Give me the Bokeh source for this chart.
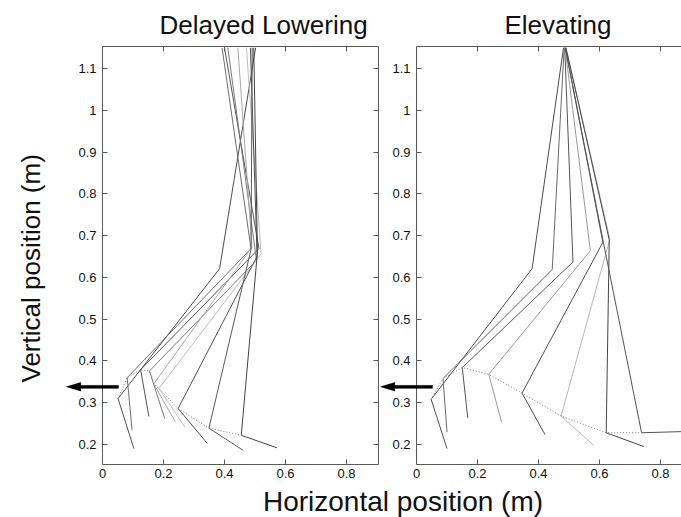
from bokeh.plotting import figure
from bokeh.models import Range1d, LinearAxis, FixedTicker, PolyAnnotation, Title
from bokeh.layouts import row, column
from bokeh.embed import file_html
from bokeh.resources import INLINE
from bokeh.core.validation import silence
from bokeh.core.validation.warnings import MISSING_RENDERERS

silence(MISSING_RENDERERS, True)

FONT = "Liberation Sans"

# ---------------- data ----------------
# Delayed Lowering: hip, knee, ankle, toe positions (m) for each frame
dl_hip_x = [0.502, 0.392, 0.400, 0.411, 0.444, 0.472, 0.485, 0.491, 0.496]
dl_hip_y = [1.150, 1.150, 1.150, 1.150, 1.150, 1.150, 1.150, 1.150, 1.150]
dl_knee_x = [0.384, 0.487, 0.513, 0.505, 0.490, 0.520, 0.507, 0.487, 0.508]
dl_knee_y = [0.621, 0.669, 0.669, 0.641, 0.672, 0.656, 0.651, 0.667, 0.660]
dl_ankle_x = [0.051, 0.081, 0.125, 0.154, 0.168, 0.185, 0.248, 0.349, 0.455]
dl_ankle_y = [0.310, 0.360, 0.379, 0.376, 0.345, 0.334, 0.286, 0.239, 0.222]
dl_toe_x = [0.103, 0.097, 0.152, 0.204, 0.239, 0.270, 0.343, 0.461, 0.572]
dl_toe_y = [0.190, 0.234, 0.267, 0.262, 0.254, 0.242, 0.203, 0.186, 0.192]
dl_colors = ["#4d4d4d", "#6e6e6e", "#555555", "#7a7a7a", "#a8a8a8",
             "#bdbdbd", "#505050", "#5a5a5a", "#444444"]

# Elevating
el_hip_x = [0.482, 0.484, 0.486, 0.487, 0.488, 0.490, 0.490, 0.488]
el_hip_y = [1.150, 1.150, 1.150, 1.150, 1.150, 1.150, 1.150, 1.150]
el_knee_x = [0.379, 0.445, 0.513, 0.570, 0.611, 0.634, 0.632, 0.613]
el_knee_y = [0.621, 0.619, 0.637, 0.664, 0.684, 0.692, 0.690, 0.683]
el_ankle_x = [0.048, 0.087, 0.150, 0.237, 0.346, 0.474, 0.622, 0.738]
el_ankle_y = [0.308, 0.358, 0.384, 0.368, 0.323, 0.268, 0.228, 0.228]
el_toe_x = [0.100, 0.100, 0.168, 0.279, 0.421, 0.581, 0.745, 0.880]
el_toe_y = [0.190, 0.230, 0.264, 0.253, 0.224, 0.198, 0.195, 0.231]
el_colors = ["#4d4d4d", "#6a6a6a", "#555555", "#9a9a9a", "#505050",
             "#b8b8b8", "#444444", "#555555"]

# obstacle-height arrow (m)
arrow_y = 0.338
arrow_x_tail = 0.053
arrow_x_tip = -0.12

x_ticks = [0, 0.2, 0.4, 0.6, 0.8]
y_ticks = [0.2, 0.3, 0.4, 0.5, 0.6, 0.7, 0.8, 0.9, 1.0, 1.1]

FRAME_H = 418
Y_RANGE = (0.152, 1.153)
AX_COLOR = "#5a5a5a"
PX_PER_X = 305.0                      # pixels per metre horizontally
PX_PER_Y = FRAME_H / (Y_RANGE[1] - Y_RANGE[0])


def style_axis(ax, ticks, show_labels, standoff=6):
    ax.ticker = FixedTicker(ticks=ticks)
    ax.major_tick_in = 5
    ax.major_tick_out = 0
    ax.minor_tick_line_color = None
    ax.axis_line_color = AX_COLOR
    ax.major_tick_line_color = AX_COLOR
    if show_labels:
        ax.major_label_overrides = {0: "0", 1: "1"}
        ax.major_label_text_font = FONT
        ax.major_label_text_font_size = "13px"
        ax.major_label_text_color = "#111111"
        ax.major_label_standoff = standoff
    else:
        ax.major_label_text_font_size = "0px"
        ax.major_label_text_color = None
        ax.major_label_standoff = 0


def arrow_shape():
    shaft = 1.6 / PX_PER_Y
    head_h = 4.5 / PX_PER_Y
    head_l = 15.0 / PX_PER_X
    neck = arrow_x_tip + head_l
    xs = [arrow_x_tail, neck, neck, arrow_x_tip, neck, neck, arrow_x_tail]
    ys = [arrow_y + shaft, arrow_y + shaft, arrow_y + head_h, arrow_y,
          arrow_y - head_h, arrow_y - shaft, arrow_y - shaft]
    return PolyAnnotation(xs=xs, ys=ys, xs_units="data", ys_units="data",
                          fill_color="black", fill_alpha=1.0,
                          line_color="black", line_width=0.5)


def make_panel(title, x_start, xmax, frame_w, left_border, right_border,
               with_right_axis, hx, hy, kx, ky, ax_, ay, tx, ty, colors, title_offset):
    p = figure(frame_width=frame_w, frame_height=FRAME_H,
               x_range=Range1d(x_start, xmax), y_range=Range1d(*Y_RANGE),
               output_backend="svg", toolbar_location=None,
               min_border_left=left_border, min_border_right=right_border,
               min_border_top=46, min_border_bottom=18)
    p.grid.visible = False
    p.background_fill_color = "white"
    p.border_fill_color = "white"
    p.outline_line_color = None

    # the visible box starts at x = 0; the frame extends left so the arrow can be drawn
    xa = p.xaxis[0]
    style_axis(xa, x_ticks, True, standoff=4)
    xa.bounds = (0, xmax)
    ya = p.yaxis[0]
    style_axis(ya, y_ticks, True, standoff=6)
    ya.fixed_location = 0

    top = LinearAxis(bounds=(0, xmax))
    style_axis(top, x_ticks, False)
    p.add_layout(top, "above")
    if with_right_axis:
        right = LinearAxis()
        style_axis(right, y_ticks, False)
        p.add_layout(right, "right")

    t = Title(text=title, align="left", text_font=FONT, text_font_size="26px",
              text_font_style="normal", text_color="#111111", standoff=14,
              offset=title_offset)
    p.add_layout(t, "above")

    xs = [[hx[i], kx[i], ax_[i], tx[i]] for i in range(len(hx))]
    ys = [[hy[i], ky[i], ay[i], ty[i]] for i in range(len(hx))]
    p.multi_line(xs, ys, line_color=colors, line_width=1)
    p.line(ax_, ay, line_color="#777777", line_width=1, line_dash="1 2")

    p.add_layout(arrow_shape())
    return p


# left panel frame: pixels 62..378, x = 0 at pixel 102
left = make_panel("Delayed Lowering", -40 / PX_PER_X, 0.905, 316, 62, 2, True,
                  dl_hip_x, dl_hip_y, dl_knee_x, dl_knee_y, dl_ankle_x, dl_ankle_y,
                  dl_toe_x, dl_toe_y, dl_colors, 97)
left.add_layout(Title(text="Vertical position (m)", align="left", offset=82,
                      vertical_align="top", text_font=FONT,
                      text_font_size="26px", text_font_style="normal",
                      text_color="#111111", standoff=30), "left")

# right panel frame: pixels 380..681, x = 0 at pixel 416
right = make_panel("Elevating", -36 / PX_PER_X, 265 / PX_PER_X, 301, 0, 0, False,
                   el_hip_x, el_hip_y, el_knee_x, el_knee_y, el_ankle_x, el_ankle_y,
                   el_toe_x, el_toe_y, el_colors, 124)

bottom = figure(width=681, height=35, output_backend="svg", toolbar_location=None,
                min_border_left=124, min_border_right=0, min_border_top=0,
                min_border_bottom=0)
bottom.axis.visible = False
bottom.grid.visible = False
bottom.outline_line_color = None
bottom.add_layout(Title(text="Horizontal position (m)", align="center", text_font=FONT,
                        text_font_size="28px", text_font_style="normal",
                        text_color="#111111", standoff=2), "above")

layout = column(row(left, right), bottom)
open("out.html", "w").write(file_html(layout, INLINE))
